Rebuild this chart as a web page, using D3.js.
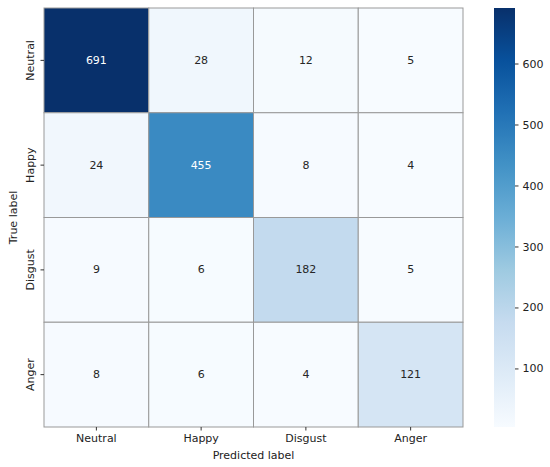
<!DOCTYPE html>
<html>
<head>
<meta charset="utf-8">
<script src="https://cdn.jsdelivr.net/npm/d3@7"></script>
<style>
  body { margin: 0; background: #fff; }
  text { font-family: "DejaVu Sans", sans-serif; }
</style>
</head>
<body>
<svg id="chart" width="550" height="467"></svg>
<script>
// confusion matrix values, rows = true label, cols = predicted label
const labels = ['Neutral', 'Happy', 'Disgust', 'Anger']
const matrix = [
    [691, 28, 12, 5],
    [24, 455, 8, 4],
    [9, 6, 182, 5],
    [8, 6, 4, 121]
]
const cbarTicks = [100, 200, 300, 400, 500, 600]

// matplotlib "Blues" stops
const bluesStops = ['#f7fbff', '#deebf7', '#c6dbef', '#9ecae1', '#6baed6', '#4292c6', '#2171b5', '#08519c', '#08306b']

const svg = d3.select('#chart')
const margin = { left: 44, top: 8, right: 87, bottom: 40 }
const width = 463 - margin.left
const height = 427 - margin.top

const flat = matrix.flat()
const vmin = d3.min(flat)
const vmax = d3.max(flat)

const color = d3.scaleLinear()
    .domain(bluesStops.map((d, i) => vmin + (vmax - vmin) * i / (bluesStops.length - 1)))
    .range(bluesStops)
    .interpolate(d3.interpolateRgb)

const x = d3.scaleBand().domain(labels).range([0, width])
const y = d3.scaleBand().domain(labels).range([0, height])

const g = svg.append('g').attr('transform', `translate(${margin.left},${margin.top})`)

const cells = []
matrix.forEach((row, r) => row.forEach((v, c) => cells.push({ row: labels[r], col: labels[c], value: v })))

g.selectAll('rect.cell')
    .data(cells)
    .join('rect')
    .attr('class', 'cell')
    .attr('x', d => x(d.col))
    .attr('y', d => y(d.row))
    .attr('width', x.bandwidth())
    .attr('height', y.bandwidth())
    .attr('fill', d => color(d.value))
    .attr('stroke', '#999')
    .attr('stroke-width', 1)

g.selectAll('text.val')
    .data(cells)
    .join('text')
    .attr('class', 'val')
    .attr('x', d => x(d.col) + x.bandwidth() / 2)
    .attr('y', d => y(d.row) + y.bandwidth() / 2)
    .attr('text-anchor', 'middle')
    .attr('dominant-baseline', 'central')
    .attr('font-size', 11)
    .attr('fill', d => (d.value - vmin) / (vmax - vmin) > 0.5 ? '#fff' : '#262626')
    .text(d => d.value)

// axes
const xAxis = g.append('g')
    .attr('transform', `translate(0,${height})`)
    .call(d3.axisBottom(x).tickSize(3.5).tickPadding(4))
xAxis.select('.domain').remove()
xAxis.selectAll('line').attr('stroke', '#333')
xAxis.selectAll('text').attr('font-size', 11).attr('fill', '#222').style('font-family', '"DejaVu Sans", sans-serif')

const yAxis = g.append('g')
    .call(d3.axisLeft(y).tickSize(3.5).tickPadding(4))
yAxis.select('.domain').remove()
yAxis.selectAll('line').attr('stroke', '#333')
yAxis.selectAll('text')
    .attr('font-size', 11).attr('fill', '#222')
    .style('font-family', '"DejaVu Sans", sans-serif')
    .attr('text-anchor', 'middle')
    .attr('dy', null)
    .attr('x', -13)
    .attr('transform', 'rotate(-90)')
    .each(function() {
        // rotate around the tick position
        const t = d3.select(this)
        t.attr('transform', 'translate(-10,0) rotate(-90)').attr('x', 0).attr('y', 0)
    })

svg.append('text')
    .attr('x', margin.left + width / 2)
    .attr('y', 459)
    .attr('text-anchor', 'middle')
    .attr('font-size', 11)
    .attr('fill', '#222')
    .text('Predicted label')

svg.append('text')
    .attr('transform', `translate(17,${margin.top + height / 2}) rotate(-90)`)
    .attr('text-anchor', 'middle')
    .attr('font-size', 11)
    .attr('fill', '#222')
    .text('True label')

// colorbar
const cbX = 494
const cbW = 21
const cbY = d3.scaleLinear().domain([vmin, vmax]).range([427, 8])

const defs = svg.append('defs')
const grad = defs.append('linearGradient')
    .attr('id', 'cbgrad')
    .attr('x1', 0).attr('y1', 1).attr('x2', 0).attr('y2', 0)
grad.selectAll('stop')
    .data(bluesStops)
    .join('stop')
    .attr('offset', (d, i) => i / (bluesStops.length - 1))
    .attr('stop-color', d => d)

svg.append('rect')
    .attr('x', cbX)
    .attr('y', cbY(vmax))
    .attr('width', cbW)
    .attr('height', cbY(vmin) - cbY(vmax))
    .attr('fill', 'url(#cbgrad)')

const cbAxis = svg.append('g')
    .attr('transform', `translate(${cbX + cbW},0)`)
    .call(d3.axisRight(cbY).tickValues(cbarTicks).tickSize(3.5).tickPadding(4))
cbAxis.select('.domain').remove()
cbAxis.selectAll('line').attr('stroke', '#333')
cbAxis.selectAll('text').attr('font-size', 11).attr('fill', '#222').style('font-family', '"DejaVu Sans", sans-serif')
</script>
</body>
</html>
